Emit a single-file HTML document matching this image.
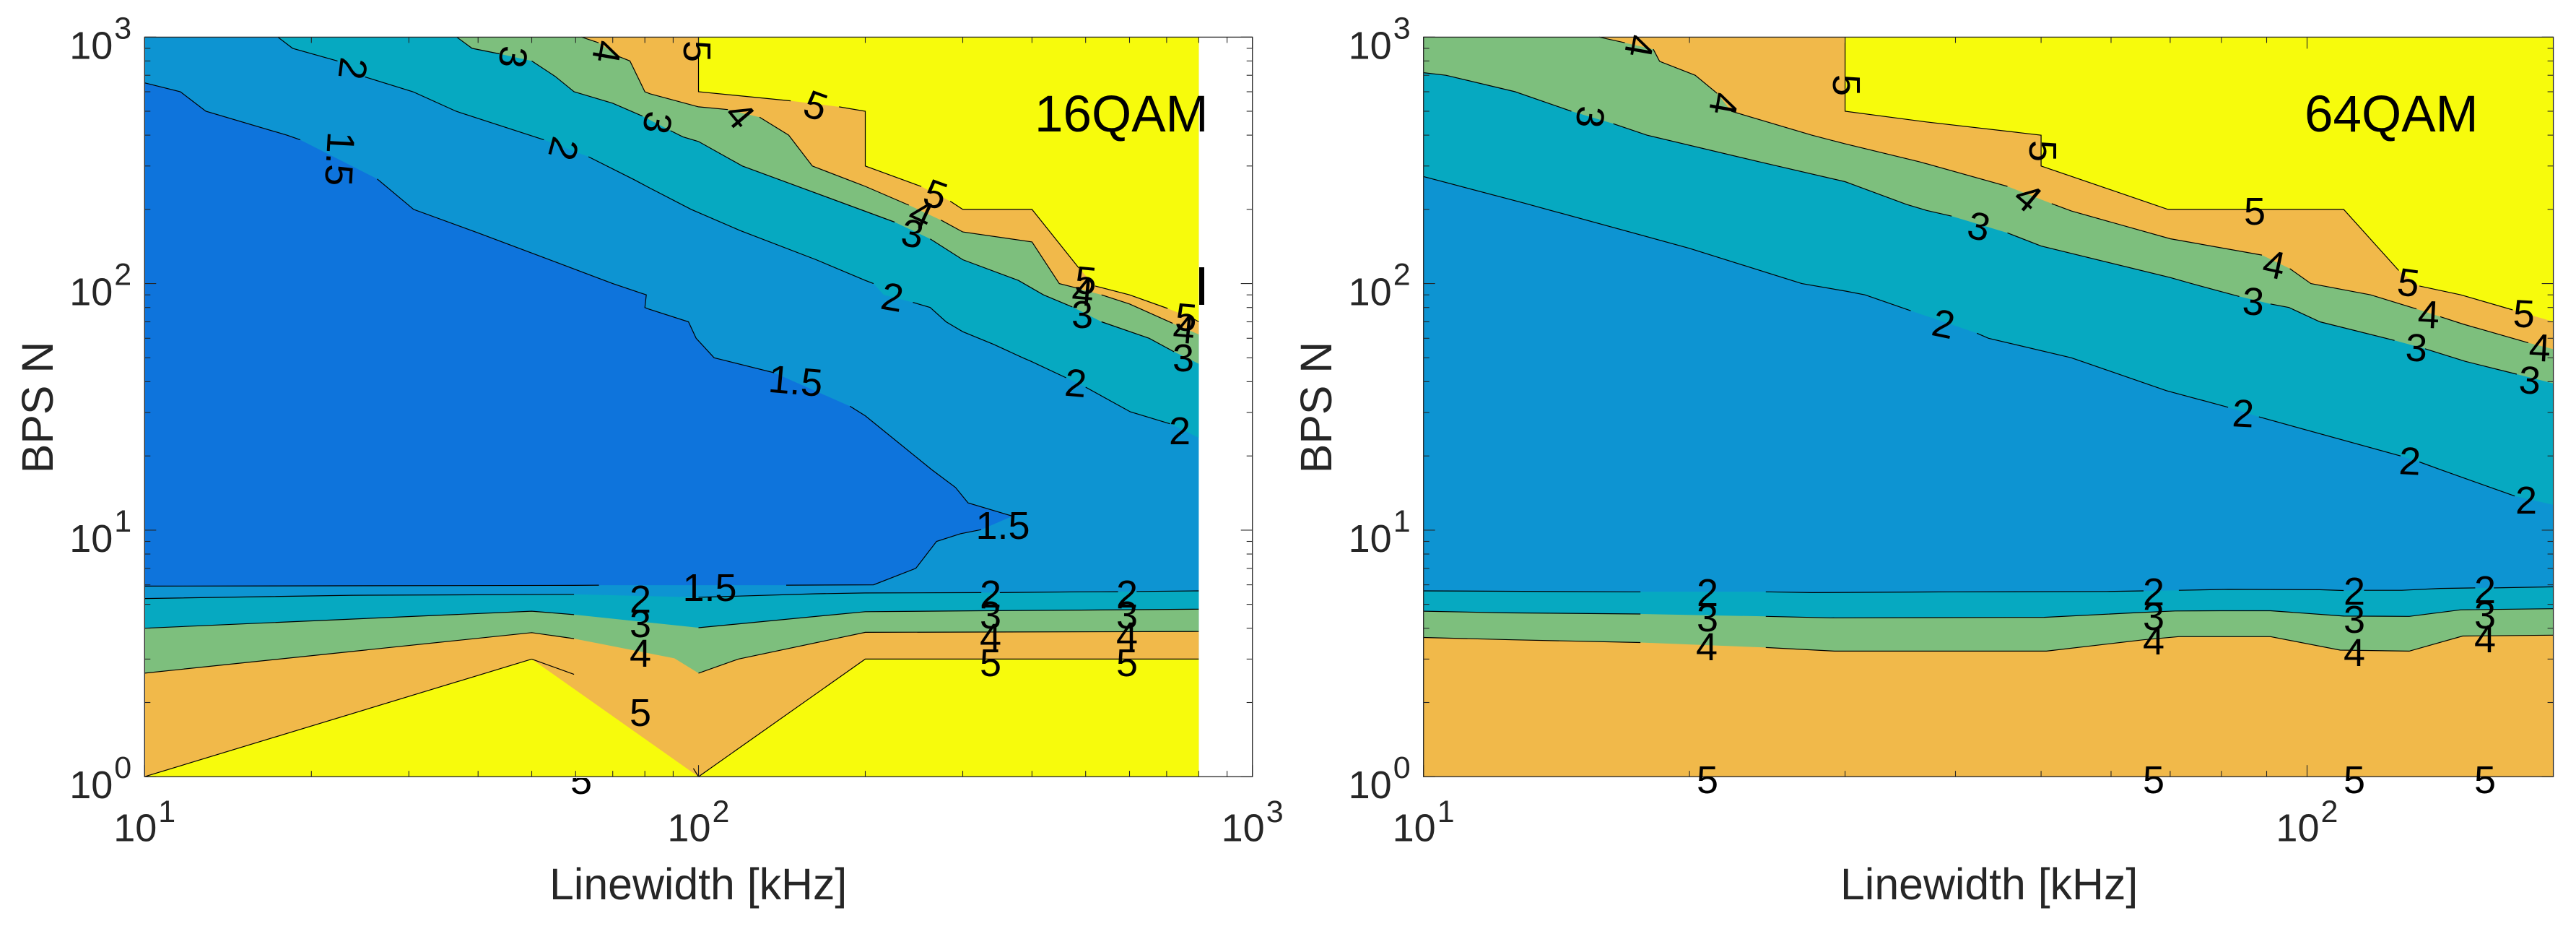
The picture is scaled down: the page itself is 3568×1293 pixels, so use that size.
<!DOCTYPE html>
<html lang="en">
<head>
<meta charset="utf-8">
<title>BPS N versus linewidth contour maps for 16QAM and 64QAM</title>
<style>
html,body{margin:0;padding:0;background:#fff;}
svg{display:block;}
text{font-family:"Liberation Sans",Arial,sans-serif;}
.cl{font-size:54px;fill:#000;text-anchor:middle;}
.title{font-size:71px;fill:#000;}
.axis-title{font-size:60.8px;fill:#262626;}
</style>
</head>
<body>
<svg id="chart" xmlns="http://www.w3.org/2000/svg" width="3568" height="1293" viewBox="0 0 3568 1293">
  <defs>
    <clipPath id="below-axis"><rect x="760" y="1077" width="90" height="60"/></clipPath>
  </defs>
  <rect x="0" y="0" width="3568" height="1293" fill="#ffffff"/>
  <g id="panel-left"></g>
  <g id="panel-right"></g>

  <rect x="1661" y="370" width="7" height="52" fill="#000"/>
  <text class="title" x="1433" y="182">16QAM</text>
  <text class="title" x="3192" y="182">64QAM</text>

  <text class="axis-title" x="761" y="1245">Linewidth [kHz]</text>
  <text class="axis-title" x="2549" y="1245">Linewidth [kHz]</text>
  <text class="axis-title" transform="rotate(-90 73 564)" x="73" y="564" text-anchor="middle">BPS N</text>
  <text class="axis-title" transform="rotate(-90 1844 564)" x="1844" y="564" text-anchor="middle">BPS N</text>

  <g>
    <text class="cl" x="489" y="95" dy=".35em" transform="rotate(97 489 95)">2</text>
    <text class="cl" x="471" y="220" dy=".35em" transform="rotate(93 471 220)">1.5</text>
    <text class="cl" x="711" y="79" dy=".35em" transform="rotate(97 711 79)">3</text>
    <text class="cl" x="841" y="72" dy=".35em" transform="rotate(100 841 72)">4</text>
    <text class="cl" x="911" y="170" dy=".35em" transform="rotate(100 911 170)">3</text>
    <text class="cl" x="781" y="206" dy=".35em" transform="rotate(105 781 206)">2</text>
    <text class="cl" x="966" y="71" dy=".35em" transform="rotate(90 966 71)">5</text>
    <text class="cl" x="1025" y="159" dy=".35em" transform="rotate(50 1025 159)">4</text>
    <text class="cl" x="1130" y="146" dy=".35em" transform="rotate(20 1130 146)">5</text>
    <text class="cl" x="1296" y="269" dy=".35em" transform="rotate(20 1296 269)">5</text>
    <text class="cl" x="1276" y="296" dy=".35em" transform="rotate(25 1276 296)">4</text>
    <text class="cl" x="1264" y="323" dy=".35em" transform="rotate(10 1264 323)">3</text>
    <text class="cl" x="1236" y="411" dy=".35em" transform="rotate(10 1236 411)">2</text>
    <text class="cl" x="1102" y="527" dy=".35em" transform="rotate(5 1102 527)">1.5</text>
    <text class="cl" x="1490" y="530" dy=".35em" transform="rotate(5 1490 530)">2</text>
    <text class="cl" x="1504" y="388" dy=".35em" transform="rotate(5 1504 388)">5</text>
    <text class="cl" x="1500" y="404" dy=".35em" transform="rotate(5 1500 404)">4</text>
    <text class="cl" x="1499" y="435" dy=".35em">3</text>
    <text class="cl" x="1643" y="439" dy=".35em" transform="rotate(5 1643 439)">5</text>
    <text class="cl" x="1640" y="456" dy=".35em" transform="rotate(5 1640 456)">4</text>
    <text class="cl" x="1639" y="495" dy=".35em">3</text>
    <text class="cl" x="1634" y="596" dy=".35em">2</text>
    <text class="cl" x="1389" y="727" dy=".35em">1.5</text>
    <text class="cl" x="983" y="813" dy=".35em">1.5</text>
    <text class="cl" x="887" y="829" dy=".35em">2</text>
    <text class="cl" x="887" y="863" dy=".35em">3</text>
    <text class="cl" x="887" y="904" dy=".35em">4</text>
    <text class="cl" x="887" y="986" dy=".35em">5</text>
    <text class="cl" x="1372" y="822" dy=".35em">2</text>
    <text class="cl" x="1372" y="851" dy=".35em">3</text>
    <text class="cl" x="1372" y="882" dy=".35em">4</text>
    <text class="cl" x="1372" y="917" dy=".35em">5</text>
    <text class="cl" x="1561" y="822" dy=".35em">2</text>
    <text class="cl" x="1561" y="851" dy=".35em">3</text>
    <text class="cl" x="1561" y="880" dy=".35em">4</text>
    <text class="cl" x="1561" y="917" dy=".35em">5</text>
    <g clip-path="url(#below-axis)">
      <text class="cl" x="805" y="1080" dy=".35em">5</text>
    </g>
  </g>

  <g>
    <text class="cl" x="2271" y="64" dy=".35em" transform="rotate(100 2271 64)">4</text>
    <text class="cl" x="2388" y="144" dy=".35em" transform="rotate(100 2388 144)">4</text>
    <text class="cl" x="2203" y="162" dy=".35em" transform="rotate(95 2203 162)">3</text>
    <text class="cl" x="2558" y="118" dy=".35em" transform="rotate(90 2558 118)">5</text>
    <text class="cl" x="2830" y="209" dy=".35em" transform="rotate(90 2830 209)">5</text>
    <text class="cl" x="2809" y="273" dy=".35em" transform="rotate(40 2809 273)">4</text>
    <text class="cl" x="2741" y="313" dy=".35em" transform="rotate(12 2741 313)">3</text>
    <text class="cl" x="2692" y="448" dy=".35em" transform="rotate(12 2692 448)">2</text>
    <text class="cl" x="3123" y="292" dy=".35em">5</text>
    <text class="cl" x="3150" y="366" dy=".35em" transform="rotate(12 3150 366)">4</text>
    <text class="cl" x="3121" y="417" dy=".35em" transform="rotate(3 3121 417)">3</text>
    <text class="cl" x="3336" y="391" dy=".35em" transform="rotate(8 3336 391)">5</text>
    <text class="cl" x="3364" y="435" dy=".35em" transform="rotate(3 3364 435)">4</text>
    <text class="cl" x="3347" y="481" dy=".35em" transform="rotate(3 3347 481)">3</text>
    <text class="cl" x="3496" y="434" dy=".35em" transform="rotate(3 3496 434)">5</text>
    <text class="cl" x="3518" y="481" dy=".35em" transform="rotate(3 3518 481)">4</text>
    <text class="cl" x="3504" y="526" dy=".35em" transform="rotate(3 3504 526)">3</text>
    <text class="cl" x="3107" y="572" dy=".35em" transform="rotate(3 3107 572)">2</text>
    <text class="cl" x="3338" y="638" dy=".35em" transform="rotate(3 3338 638)">2</text>
    <text class="cl" x="3499" y="692" dy=".35em">2</text>
    <text class="cl" x="2365" y="820" dy=".35em">2</text>
    <text class="cl" x="2365" y="855" dy=".35em">3</text>
    <text class="cl" x="2364" y="895" dy=".35em">4</text>
    <text class="cl" x="2365" y="1079" dy=".35em">5</text>
    <text class="cl" x="2983" y="819" dy=".35em">2</text>
    <text class="cl" x="2983" y="853" dy=".35em">3</text>
    <text class="cl" x="2983" y="887" dy=".35em">4</text>
    <text class="cl" x="2983" y="1079" dy=".35em">5</text>
    <text class="cl" x="3261" y="818" dy=".35em">2</text>
    <text class="cl" x="3261" y="857" dy=".35em">3</text>
    <text class="cl" x="3261" y="903" dy=".35em">4</text>
    <text class="cl" x="3261" y="1079" dy=".35em">5</text>
    <text class="cl" x="3442" y="816" dy=".35em">2</text>
    <text class="cl" x="3442" y="851" dy=".35em">3</text>
    <text class="cl" x="3442" y="884" dy=".35em">4</text>
    <text class="cl" x="3442" y="1079" dy=".35em">5</text>
  </g>
</svg>
<script>
// Contour data: [linewidth kHz, BPS N]. null = break in the drawn line (label gap).
const left15 = [[10,652],[11.6,600],[12.9,500],[18.06,400],[19.1,383],null,[26.3,265.6],[30.6,200],[40,160.6],[50,133],[60,114],[70,100],[80.5,90],[80,80],[81,79],[95.9,70],[99,60],[106.7,50],[111,48.9],[136.9,43.5],null,[187.7,31.8],[200,29.1],[263.6,17.6],[291,14.9],[306.7,12.9],[368.7,11.4],null,[323.9,10.05],[297,9.67],[269,9],[246.8,7],[207,6],[144,5.98],null,[66.1,5.98],[59.6,5.97],[10,5.93]];
const left2Up = [[17.4,1000],[18.5,900],[22.3,800],null,[25,689],[30.5,600],[36.5,500],[52.6,383],null,[63.3,327],[76.5,264],[81.7,244],[97,200],[119,164],[163,125],[200,103],[207,100],null,[216,90],null,[243.8,83.9],[262,80],[279.9,70],[300,63.8],[341,56.7],[385,50],[398.5,48.4],[461,41.5],null,[500,38],[602,30.2],[710,27],null,[800,23.7]];
const left2Low = [[10,5.28],[23.7,5.44],[59.6,5.49],null,[100,5.34],[163,5.52],[200,5.56],[324,5.58],null,[350,5.58],[486,5.62],[572,5.63],null,[618,5.64],[800,5.67]];
const left3Up = [[36.6,1000],[39,900],[43.7,855],null,[50,800],[55.1,693],[59.6,600],[70,539],[79.2,478],null,[89,417],[93.7,394],[100,377],[120,300],[226,177.5],null,[262,151.8],[300,125],[378,103],[419.6,90],[473,80.4],null,[534,70],[651,60],[722,52.9],null,[800,47.3]];
const left3Low = [[10,4],[50,4.69],[59.6,4.54],null,[100,4.02],[200,4.67],[324,4.71],[490,4.74],[800,4.78]];
const left4Up = [[61.5,1000],[66,948],null,[71.4,838],[75.2,800],[80,600],[81.7,589],[100,521],[113,508],null,[128.9,473],[145.5,400],[160.5,300],[200,248],[239.7,208],null,[274,181],[300,162],[400,147.6],[448,100],[481.7,96],null,[534,90],[600,82.7],[718,69],null,[800,62.2]];
const left4Low = [[10,2.63],[50,3.84],[59.6,3.63],null,[77.2,3.24],null,[90.5,3.02],null,[100,2.63],[118,3],[200,3.85],[800,3.88]];
const left5Up = [[100,1000],[100,600],[146.7,551],null,[179.4,521],[200,500],[200,300],[252.5,247.6],null,[284.7,215.9],[300,200],[400,200],[486,115.7],null,[520,97.8],[600,90],[703,79.3],null,[780,72.3],[800,70]];
const left5Low = [[10,1],[50,3],null,[100,1],[200,3],[800,3]];
const leftSpurA = [[50,3],[59.6,2.6]];
const leftSpurB = [[97.9,1.08],[100,1]];

const right2Up = [[10,271.7],[13,212],[20,139],[26.8,100],[30,93.3],[31.6,90],[35.6,77.6],null,[42.3,62.9],[43.6,60],[54.1,50],[69.3,36.8],[81.4,31.5],null,[88.2,28.8],[127.6,20],null,[134,18.9],[141.5,17.6],[171.8,13.75],null,[190,12.66]];
const right2Low = [[10,5.67],[17.1,5.62],[17.6,5.62],null,[24.4,5.62],[27.5,5.58],[39.8,5.62],[59.3,5.64],[65.3,5.67],null,[71.6,5.7],[81.5,5.75],[103.4,5.73],[110,5.69],null,[116,5.7],[128,5.7],[141.5,5.8],[155,5.83],null,[162.7,5.83],[190,5.89]];
const right3Up = [[10,717],[10.6,700],[12.7,600],[14.7,500],null,[16.4,445],[17.9,400],[24.1,310.6],[30,259],[35.2,209.6],[37.1,198],[39.6,187.8],null,[45.8,160.6],[50,142],[70,105.8],[74,100],[83.8,88.7],null,[90.9,82.7],[95.4,80],[103.4,70],[125.6,58.8],null,[136,54.4],[151,48.4],[172.7,42.9],null,[190,39.4]];
const right3Low = [[10,4.69],[12.4,4.62],[17.6,4.57],null,[24.4,4.47],[28.9,4.41],[50.4,4.43],[63.6,4.62],[70.9,4.7],[79.8,4.71],[90.9,4.71],[110,4.48],[130.5,4.47],[149.3,4.75],[190,4.8]];
const right4Up = [[15.8,1000],[16.9,948],null,[18.2,892],[18.5,797],[20.3,700],[21.5,591],null,[22.3,500],[27.5,400],[30,369],[36.4,312],[45.8,248],null,[51.4,211],[54.1,197],[70,152],[88.9,130.5],null,[95.6,115],[101,100],[118,90],[133,78.9],null,[141.5,73.4],[150,68.6],[178,57.5],null,[190,54.2]];
const right4Low = [[10,3.67],[12.6,3.59],[17.6,3.5],null,[24.4,3.34],[29.2,3.23],[50.7,3.23],[65.3,3.59],[71.6,3.7],[90.9,3.7],[109,3.26],[130.5,3.23],[150,3.72],[190,3.75]];
const right5Up = [[30,1000],[30,500],[37,453],[50,400],[50,300],[69.6,200],[110,200],[127,113],null,[134,97.8],[149.3,90],[170.9,78.2],null,[190,70.1]];

// Axis tick values
const yTickValues = [1,2,3,4,5,6,7,8,9,10,20,30,40,50,60,70,80,90,100,200,300,400,500,600,700,800,900,1000];
const xTickValuesLeft = [10,20,30,40,50,60,70,80,90,100,200,300,400,500,600,700,800,900,1000];
const xTickValuesRight = [10,20,30,40,50,60,70,80,90,100];
const yDecadeExponents = [0,1,2,3];
const xDecadeExponentsLeft = [1,2,3];
const xDecadeExponentsRight = [1,2];

const SVGNS = 'http://www.w3.org/2000/svg';
const plotTop = 51.4, plotBottom = 1075.2, yDecade = 341.3;
const colorBase = '#0d94d2', colorDeep = '#0e74dc', colorTeal = '#06a9c1', colorGreen = '#7dbf7d', colorOrange = '#f1b94a', colorYellow = '#f7fb0c';

function yScale(v){ return plotBottom - yDecade * Math.log10(v); }
function xScaleLeft(v){ return 200.3 + 767.2 * (Math.log10(v) - 1); }
function xScaleRight(v){ return 1971.7 + 1223.8 * (Math.log10(v) - 1); }

function linePath(pts, xs){
  let d = '', pen = false;
  pts.forEach(function(p){
    if(p === null){ pen = false; return; }
    d += (pen ? 'L' : 'M') + xs(p[0]).toFixed(1) + ' ' + yScale(p[1]).toFixed(1);
    pen = true;
  });
  return d;
}
function fillPath(pts, xs, closure, xMax){
  const solid = pts.filter(function(p){ return p !== null; });
  let all = solid;
  if(closure === 'top'){ all = solid.concat([[xMax,1000],[10,1000]]); }
  if(closure === 'bottom'){ all = solid.concat([[xMax,1],[10,1]]); }
  return linePath(all, xs) + 'Z';
}
function drawFill(group, pts, xs, closure, xMax, color, name){
  const el = document.createElementNS(SVGNS, 'path');
  el.setAttribute('d', fillPath(pts, xs, closure, xMax));
  el.setAttribute('fill', color);
  
  
  group.appendChild(el);
}
function drawLine(group, pts, xs, name){
  const el = document.createElementNS(SVGNS, 'path');
  el.setAttribute('d', linePath(pts, xs));
  el.setAttribute('fill', 'none');
  el.setAttribute('stroke', '#000');
  el.setAttribute('stroke-width', '1.2');
  
  
  group.appendChild(el);
}
function drawTick(group, x1, y1, x2, y2, name){
  const el = document.createElementNS(SVGNS, 'line');
  el.setAttribute('x1', x1.toFixed(1));
  el.setAttribute('y1', y1.toFixed(1));
  el.setAttribute('x2', x2.toFixed(1));
  el.setAttribute('y2', y2.toFixed(1));
  el.setAttribute('stroke', '#262626');
  el.setAttribute('stroke-width', '1.1');
  
  
  group.appendChild(el);
}
function drawText(group, str, x, y, size, anchor, name){
  const el = document.createElementNS(SVGNS, 'text');
  el.setAttribute('x', x.toFixed(1));
  el.setAttribute('y', y.toFixed(1));
  el.setAttribute('font-size', size);
  el.setAttribute('fill', '#262626');
  el.setAttribute('text-anchor', anchor);
  
  
  el.textContent = str;
  group.appendChild(el);
}
function isDecade(v){ return Math.abs(Math.log10(v) - Math.round(Math.log10(v))) < 1e-9; }

function drawAxes(group, xs, xLimit, xTicks, xExps){
  const left = xs(10), right = xs(xLimit);
  const box = document.createElementNS(SVGNS, 'rect');
  box.setAttribute('x', left.toFixed(1));
  box.setAttribute('y', plotTop.toFixed(1));
  box.setAttribute('width', (right - left).toFixed(1));
  box.setAttribute('height', (plotBottom - plotTop).toFixed(1));
  box.setAttribute('fill', 'none');
  box.setAttribute('stroke', '#262626');
  box.setAttribute('stroke-width', '1.3');
  
  
  group.appendChild(box);
  xTicks.forEach(function(v){
    const len = isDecade(v) ? 16 : 8;
    const x = xs(v);
    drawTick(group, x, plotBottom, x, plotBottom - len, 'x-tick-bottom');
    drawTick(group, x, plotTop, x, plotTop + len, 'x-tick-top');
  });
  yTickValues.forEach(function(v){
    const len = isDecade(v) ? 16 : 8;
    const y = yScale(v);
    drawTick(group, left, y, left + len, y, 'y-tick-left');
    drawTick(group, right, y, right - len, y, 'y-tick-right');
  });
  yDecadeExponents.forEach(function(e){
    const y = yScale(Math.pow(10, e));
    drawText(group, '10', left - 44, y + 30, 54, 'end', 'y-tick-label-base');
    drawText(group, String(e), left - 42, y + 2, 43, 'start', 'y-tick-label-exponent');
  });
  xExps.forEach(function(e){
    const x = xs(Math.pow(10, e));
    drawText(group, '10', x + 17, 1164.6, 54, 'end', 'x-tick-label-base');
    drawText(group, String(e), x + 19, 1138, 43, 'start', 'x-tick-label-exponent');
  });
}

function plotBackground(group, xs, xMax){
  const bg = document.createElementNS(SVGNS, 'rect');
  bg.setAttribute('x', xs(10).toFixed(1));
  bg.setAttribute('y', plotTop.toFixed(1));
  bg.setAttribute('width', (xs(xMax) - xs(10)).toFixed(1));
  bg.setAttribute('height', (plotBottom - plotTop).toFixed(1));
  bg.setAttribute('fill', colorBase);
  
  
  group.appendChild(bg);
}

// Left panel: 16QAM
const gL = document.getElementById('panel-left');
const leftMax = 800;
plotBackground(gL, xScaleLeft, leftMax);
drawFill(gL, left15, xScaleLeft, 'closed', leftMax, colorDeep, 'region-below-1-5');
drawFill(gL, left2Up, xScaleLeft, 'top', leftMax, colorTeal, 'region-above-2-upper');
drawFill(gL, left2Low, xScaleLeft, 'bottom', leftMax, colorTeal, 'region-above-2-lower');
drawFill(gL, left3Up, xScaleLeft, 'top', leftMax, colorGreen, 'region-above-3-upper');
drawFill(gL, left3Low, xScaleLeft, 'bottom', leftMax, colorGreen, 'region-above-3-lower');
drawFill(gL, left4Up, xScaleLeft, 'top', leftMax, colorOrange, 'region-above-4-upper');
drawFill(gL, left4Low, xScaleLeft, 'bottom', leftMax, colorOrange, 'region-above-4-lower');
drawFill(gL, left5Up, xScaleLeft, 'top', leftMax, colorYellow, 'region-above-5-upper');
drawFill(gL, left5Low, xScaleLeft, 'bottom', leftMax, colorYellow, 'region-above-5-lower');
drawLine(gL, left15, xScaleLeft, 'contour-line-1-5');
drawLine(gL, left2Up, xScaleLeft, 'contour-line-2-upper');
drawLine(gL, left2Low, xScaleLeft, 'contour-line-2-lower');
drawLine(gL, left3Up, xScaleLeft, 'contour-line-3-upper');
drawLine(gL, left3Low, xScaleLeft, 'contour-line-3-lower');
drawLine(gL, left4Up, xScaleLeft, 'contour-line-4-upper');
drawLine(gL, left4Low, xScaleLeft, 'contour-line-4-lower');
drawLine(gL, left5Up, xScaleLeft, 'contour-line-5-upper');
drawLine(gL, left5Low, xScaleLeft, 'contour-line-5-lower');
drawLine(gL, leftSpurA, xScaleLeft, 'contour-line-spur');
drawLine(gL, leftSpurB, xScaleLeft, 'contour-line-spur');
drawAxes(gL, xScaleLeft, 1000, xTickValuesLeft, xDecadeExponentsLeft);

// Right panel: 64QAM
const gR = document.getElementById('panel-right');
const rightMax = 190;
plotBackground(gR, xScaleRight, rightMax);
drawFill(gR, right2Up, xScaleRight, 'top', rightMax, colorTeal, 'region-above-2-upper');
drawFill(gR, right2Low, xScaleRight, 'bottom', rightMax, colorTeal, 'region-above-2-lower');
drawFill(gR, right3Up, xScaleRight, 'top', rightMax, colorGreen, 'region-above-3-upper');
drawFill(gR, right3Low, xScaleRight, 'bottom', rightMax, colorGreen, 'region-above-3-lower');
drawFill(gR, right4Up, xScaleRight, 'top', rightMax, colorOrange, 'region-above-4-upper');
drawFill(gR, right4Low, xScaleRight, 'bottom', rightMax, colorOrange, 'region-above-4-lower');
drawFill(gR, right5Up, xScaleRight, 'top', rightMax, colorYellow, 'region-above-5-upper');
drawLine(gR, right2Up, xScaleRight, 'contour-line-2-upper');
drawLine(gR, right2Low, xScaleRight, 'contour-line-2-lower');
drawLine(gR, right3Up, xScaleRight, 'contour-line-3-upper');
drawLine(gR, right3Low, xScaleRight, 'contour-line-3-lower');
drawLine(gR, right4Up, xScaleRight, 'contour-line-4-upper');
drawLine(gR, right4Low, xScaleRight, 'contour-line-4-lower');
drawLine(gR, right5Up, xScaleRight, 'contour-line-5-upper');
drawAxes(gR, xScaleRight, rightMax, xTickValuesRight, xDecadeExponentsRight);
</script>
</body>
</html>
